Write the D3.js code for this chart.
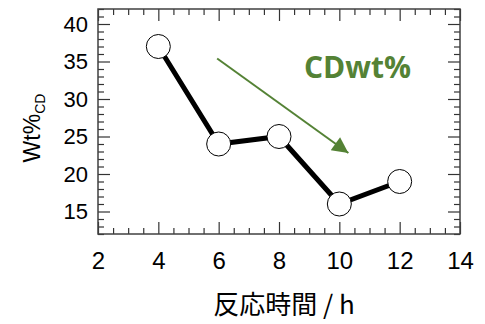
<!DOCTYPE html>
<html>
<head>
<meta charset="utf-8">
<script src="https://cdn.jsdelivr.net/npm/d3@7"></script>
<style>
  body { margin: 0; background: #fff; }
  .tick text { font-family: "Liberation Sans", Arial, sans-serif; fill: #000; }
  .axis .domain { display: none; }
  .axis line { stroke: #333; stroke-width: 1.2; }
</style>
</head>
<body>
<div id="chart"></div>
<script>
// reaction time (h) and CD weight percent
const hours = [4, 6, 8, 10, 12];
const wtCD = [37, 24, 25, 16, 19];
const xTicks = [2, 4, 6, 8, 10, 12, 14];
const yTicks = [15, 20, 25, 30, 35, 40];

const width = 485, height = 324;
const plot = {left: 98, right: 460, top: 9, bottom: 234};
const green = '#548235';

const svg = d3.select('#chart')
  .append('svg')
  .attr('width', width)
  .attr('height', height);

const x = d3.scaleLinear().domain([2, 14]).range([plot.left, plot.right]);
const y = d3.scaleLinear().domain([12, 42]).range([plot.bottom, plot.top]);

const xMinor = d3.range(2, 14.01, 0.5).filter(v => v % 2 !== 0);
const yMinor = d3.range(12, 42.01, 1).filter(v => v % 5 !== 0);

// major + minor ticks, inward, on all four sides
function addAxis(axisFn, scale, transform, values, size, labels, fontSize) {
  const g = svg.append('g')
    .attr('class', 'axis')
    .attr('transform', transform)
    .call(axisFn(scale).tickValues(values).tickSize(-size)
      .tickFormat(labels ? d3.format('d') : ''));
  g.selectAll('text').style('font-size', fontSize + 'px');
  return g;
}

const bx = addAxis(d3.axisBottom, x, `translate(0,${plot.bottom})`, xTicks, 12, true, 24);
bx.selectAll('text').attr('y', 18);
addAxis(d3.axisBottom, x, `translate(0,${plot.bottom})`, xMinor, 6, false);
addAxis(d3.axisTop, x, `translate(0,${plot.top})`, xTicks, 12, false);
addAxis(d3.axisTop, x, `translate(0,${plot.top})`, xMinor, 6, false);

const ly = addAxis(d3.axisLeft, y, `translate(${plot.left},0)`, yTicks, 12, true, 22);
ly.selectAll('text').attr('x', -10);
addAxis(d3.axisLeft, y, `translate(${plot.left},0)`, yMinor, 6, false);
addAxis(d3.axisRight, y, `translate(${plot.right},0)`, yTicks, 12, false);
addAxis(d3.axisRight, y, `translate(${plot.right},0)`, yMinor, 6, false);

// frame
svg.append('rect')
  .attr('x', plot.left)
  .attr('y', plot.top)
  .attr('width', plot.right - plot.left)
  .attr('height', plot.bottom - plot.top)
  .attr('fill', 'none')
  .attr('stroke', '#404040')
  .attr('stroke-width', 1.5);

// data line and markers
const pts = hours.map((h, i) => [h, wtCD[i]]);
svg.append('path')
  .datum(pts)
  .attr('d', d3.line().x(d => x(d[0])).y(d => y(d[1])))
  .attr('fill', 'none')
  .attr('stroke', '#000')
  .attr('stroke-width', 5);

svg.append('g')
  .selectAll('circle')
  .data(pts)
  .enter()
  .append('circle')
  .attr('cx', d => x(d[0]))
  .attr('cy', d => y(d[1]))
  .attr('r', 12)
  .attr('fill', '#fff')
  .attr('stroke', '#000')
  .attr('stroke-width', 1);

// trend arrow
svg.append('defs')
  .append('marker')
  .attr('id', 'head')
  .attr('viewBox', '0 0 10 10')
  .attr('refX', 10)
  .attr('refY', 5)
  .attr('markerWidth', 9)
  .attr('markerHeight', 8)
  .attr('markerUnits', 'strokeWidth')
  .attr('orient', 'auto')
  .append('path')
  .attr('d', 'M0,0 L10,5 L0,10 Z')
  .attr('fill', green);

svg.append('line')
  .attr('x1', x(5.95))
  .attr('y1', y(35.4))
  .attr('x2', x(10.3))
  .attr('y2', y(22.8))
  .attr('stroke', green)
  .attr('stroke-width', 2)
  .attr('marker-end', 'url(#head)');

svg.append('text')
  .attr('x', 304)
  .attr('y', 78)
  .attr('font-family', '"Open Sans", sans-serif')
  .attr('font-weight', 'bold')
  .attr('font-size', 30)
  .attr('fill', green)
  .text('CDwt%');

// axis titles
const yt = svg.append('text')
  .attr('transform', 'translate(40,128) rotate(-90)')
  .attr('text-anchor', 'middle')
  .attr('font-family', '"Liberation Sans", Arial, sans-serif')
  .attr('font-size', 23);
yt.append('tspan').text('Wt%');
yt.append('tspan').attr('font-size', 14).attr('dy', 5).text('CD');

svg.append('text')
  .attr('x', 284)
  .attr('y', 314)
  .attr('text-anchor', 'middle')
  .attr('font-family', '"Noto Sans CJK JP", sans-serif')
  .attr('font-size', 26)
  .text('反応時間 / h');
</script>
</body>
</html>
